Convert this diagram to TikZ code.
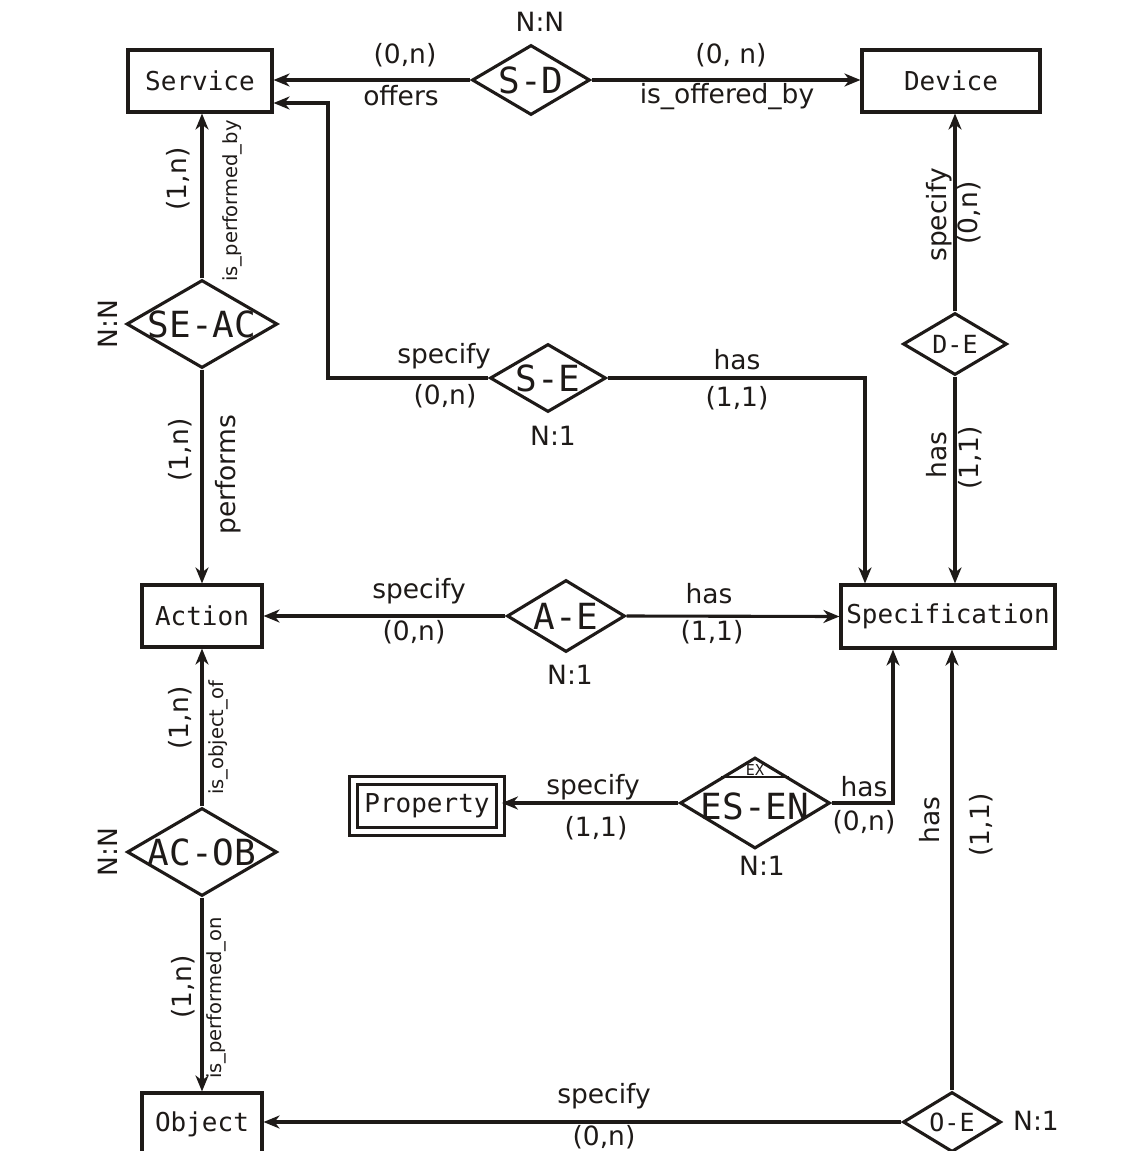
\documentclass[tikz,border=0pt]{standalone}
\usepackage{fontspec}
\setmainfont{DejaVu Sans}
\newfontfamily\monof{DejaVu Sans Mono}
\usetikzlibrary{shapes.geometric,arrows.meta,calc}
\definecolor{ink}{HTML}{1E1A18}
\tikzset{
  ent/.style={draw=ink, line width=3.1pt, minimum width=#1, inner sep=0pt, minimum height=62pt,
    font=\monof\fontsize{26}{28}\selectfont, text=ink},
  rel/.style={draw=ink, line width=3.1pt, diamond, inner sep=0pt},
  rtxt/.style={font=\monof\fontsize{36}{38}\selectfont, text=ink, inner sep=0pt},
  stxt/.style={font=\monof\fontsize{25}{28}\selectfont, text=ink, inner sep=0pt},
  lbl/.style={font=\fontsize{26.5}{30}\selectfont, text=ink, inner sep=0pt},
  sml/.style={font=\fontsize{19.5}{22}\selectfont, text=ink, inner sep=0pt},
  arr/.style={draw=ink, line width=3.1pt, -{Stealth[length=16pt,width=13pt,inset=5pt]}},
  ln/.style={draw=ink, line width=3.1pt}
}
\begin{document}
\begin{tikzpicture}[x=1pt,y=-1pt]
\useasboundingbox (0,0) rectangle (1140,1151);
\clip (0,0) rectangle (1140,1151);
\fill[white] (0,0) rectangle (1140,1151);

% entities
\node[ent=144pt] (service) at (200,81) {Service};
\node[ent=178pt] (device) at (951,81) {Device};
\node[ent=120pt] (action) at (202,616) {Action};
\node[ent=214pt, minimum height=63pt] (spec) at (948,616.5) {Specification};
\node[ent=120pt] (object) at (202,1124) {Object};
\node[draw=ink, double, double distance=5.5pt, line width=2.8pt, minimum width=147pt, minimum height=51pt,
  inner sep=0pt, font=\monof\fontsize{26}{28}\selectfont, text=ink] (property) at (427,806) {Property};

% relationships
\node[rel, minimum width=118pt, minimum height=70pt] (sd) at (531,80) {};
\node[rtxt] (sdt) at (sd) {S-D};
\node[rel, minimum width=151pt, minimum height=88pt] (seac) at (202,324) {};
\node[rtxt] (seact) at (seac) {SE-AC};
\node[rel, minimum width=116pt, minimum height=68pt] (se) at (548,378) {};
\node[rtxt] (set) at (se) {S-E};
\node[rel, minimum width=104pt, minimum height=62pt] (de) at (955,344) {};
\node[stxt] (det) at (de) {D-E};
\node[rel, minimum width=118pt, minimum height=72pt] (ae) at (566,616) {};
\node[rtxt] (aet) at (ae) {A-E};
\node[rel, minimum width=150pt, minimum height=91pt] (esen) at (755,803) {};
\node[rtxt] (esent) at ([yshift=-3pt]esen.center) {ES-EN};
\node[rel, minimum width=150pt, minimum height=88pt] (acob) at (202,852) {};
\node[rtxt] (acobt) at (acob) {AC-OB};
\node[rel, minimum width=98pt, minimum height=60pt] (oe) at (952,1122) {};
\node[stxt] (oet) at (oe) {O-E};

% EX partition
\draw[ln, line width=2.4pt] ($(esen.north)!0.45!(esen.west)$) -- ($(esen.north)!0.45!(esen.east)$);
\node[font=\monof\fontsize{15}{17}\selectfont, text=ink, inner sep=0pt] (ex) at (755,770) {EX};

% connectors
\draw[arr] (sd.west) -- (service.east |- sd.west);
\draw[arr] (sd.east) -- (device.west |- sd.east);
\draw[arr] (seac.north) -- (service.south -| seac.north);
\draw[arr] (seac.south) -- (action.north);
\draw[arr] (se.west) -- (328,378) -- (328,103) -- (service.east |- 0,103);
\draw[arr] (se.east) -- (865,378) -- (spec.north -| 865,0);
\draw[arr] (de.north) -- (device.south -| de.north);
\draw[arr] (de.south) -- (spec.north -| de.south);
\draw[arr] (ae.west) -- (action.east);
\draw[arr] (ae.east) -- (spec.west);
\draw[arr] (acob.north) -- (action.south);
\draw[arr] (acob.south) -- (object.north);
\draw[arr] (esen.west) -- (property.east |- esen.west);
\draw[arr] (esen.east) -- (893,803) -- (spec.south -| 893,0);
\draw[arr] (oe.north) -- (spec.south -| oe.north);
\draw[arr] (oe.west) -- (object.east |- oe.west);

% cardinality labels
\node[lbl] (l1) at (540,22) {N:N};
\node[lbl] (l2) at (405,55) {(0,n)};
\node[lbl] (l3) at (401,96) {offers};
\node[lbl] (l4) at (731,55) {(0, n)};
\node[lbl] (l5) at (727,97) {is\_offered\_by};

\node[lbl, rotate=90] (l6) at (178,179) {(1,n)};
\node[sml, rotate=90] (l7) at (232,201) {is\_performed\_by};
\node[lbl, rotate=90] (l8) at (108,324) {N:N};
\node[lbl, rotate=90] (l9) at (180,450) {(1,n)};
\node[lbl, rotate=90] (l10) at (228,475) {performs};

\node[lbl] (l11) at (444,356) {specify};
\node[lbl] (l12) at (445,396) {(0,n)};
\node[lbl] (l13) at (737,360) {has};
\node[lbl] (l14) at (737,398) {(1,1)};
\node[lbl] (l15) at (553,436) {N:1};

\node[lbl, rotate=90] (l16) at (939,215) {specify};
\node[lbl, rotate=90] (l17) at (969,213) {(0,n)};
\node[lbl, rotate=90] (l18) at (937,455) {has};
\node[lbl, rotate=90] (l19) at (970,458) {(1,1)};

\node[lbl] (l20) at (419,591) {specify};
\node[lbl] (l21) at (414,632) {(0,n)};
\node[lbl] (l22) at (709,594) {has};
\node[lbl] (l23) at (712,632) {(1,1)};
\node[lbl] (l24) at (570,675) {N:1};

\node[lbl, rotate=90] (l25) at (180,718) {(1,n)};
\node[sml, rotate=90] (l26) at (218,738) {is\_object\_of};
\node[lbl, rotate=90] (l27) at (108,852) {N:N};
\node[lbl, rotate=90] (l28) at (183,987) {(1,n)};
\node[sml, rotate=90] (l29) at (216,998) {is\_performed\_on};

\node[lbl] (l30) at (593,787) {specify};
\node[lbl] (l31) at (596,828) {(1,1)};
\node[lbl] (l32) at (864,787) {has};
\node[lbl] (l33) at (864,822) {(0,n)};
\node[lbl] (l34) at (762,866) {N:1};

\node[lbl, rotate=90] (l35) at (930,820) {has};
\node[lbl, rotate=90] (l36) at (981,825) {(1,1)};
\node[lbl] (l37) at (604,1096) {specify};
\node[lbl] (l38) at (604,1137) {(0,n)};
\node[lbl] (l39) at (1036,1121) {N:1};
\end{tikzpicture}
\end{document}
